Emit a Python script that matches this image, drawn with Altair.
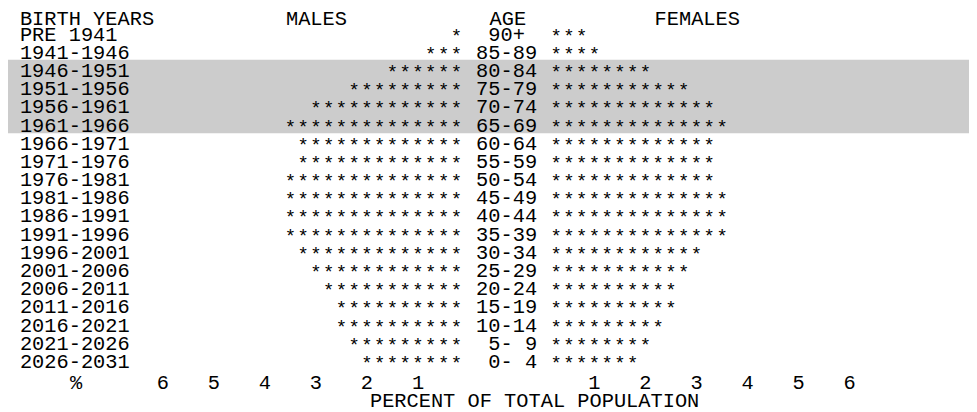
import altair as alt
import pandas as pd

# ---------------- data ----------------
birth_years = ["PRE 1941", "1941-1946", "1946-1951", "1951-1956", "1956-1961",
               "1961-1966", "1966-1971", "1971-1976", "1976-1981", "1981-1986",
               "1986-1991", "1991-1996", "1996-2001", "2001-2006", "2006-2011",
               "2011-2016", "2016-2021", "2021-2026", "2026-2031"]
age_groups = [" 90+", "85-89", "80-84", "75-79", "70-74", "65-69", "60-64",
              "55-59", "50-54", "45-49", "40-44", "35-39", "30-34", "25-29",
              "20-24", "15-19", "10-14", " 5- 9", " 0- 4"]
male_stars = [1, 3, 6, 9, 12, 14, 13, 13, 14, 14, 14, 14, 13, 12, 11, 10, 10, 9, 8]
female_stars = [3, 4, 8, 11, 13, 14, 13, 13, 13, 14, 14, 14, 12, 11, 10, 10, 9, 8, 7]
tick_values = [1, 2, 3, 4, 5, 6]
highlight_years = ["1946-1951", "1951-1956", "1956-1961", "1961-1966"]
PCT_PER_STAR = 0.25

# ---------------- layout ----------------
W, H = 969, 404
CHAR = 12.87                  # cell width of the star grid (px)
PX_PER_PCT = 4 * CHAR
CENTER = 502.35               # view x of the middle of the age column
HALF_GAP = 37.45 / PX_PER_PCT
FONT = "Courier New, Liberation Mono, monospace"
FS = 20.5
FS_STAR = 19
ADV = 0.6 * FS                # advance of one label character
ROW0, ROW_H = 25.3, 18.33     # view y of first data row, row pitch


def ux(page_x):
    return (page_x - 8 - CENTER) / PX_PER_PCT


def urow(page_y):
    return (page_y - 8 - ROW0) / ROW_H


def lead(s):
    return len(s) - len(s.lstrip(" "))


XDOM = [ux(8), ux(8 + W)]
YDOM = [urow(8), urow(8 + H)]
xs = alt.Scale(domain=XDOM, nice=False, zero=False)
ys = alt.Scale(domain=YDOM, nice=False, zero=False, reverse=True)

# stars, one text mark per star
stars = []
for i, (m, f) in enumerate(zip(male_stars, female_stars)):
    for k in range(1, m + 1):
        stars.append({"t": "*", "x": -(HALF_GAP + k * PCT_PER_STAR), "row": i})
    for k in range(1, f + 1):
        stars.append({"t": "*", "x": HALF_GAP + k * PCT_PER_STAR, "row": i})
stars = pd.DataFrame(stars)

head_row = urow(17.5)
left_txt = pd.DataFrame(
    [{"t": b, "x": ux(20), "row": i} for i, b in enumerate(birth_years)]
    + [{"t": a.strip(), "x": ux(480 + lead(a) * ADV), "row": i}
       for i, a in enumerate(age_groups)]
    + [{"t": "BIRTH YEARS", "x": ux(20), "row": head_row}]
)

tick_row = urow(384)
center_txt = pd.DataFrame(
    [{"t": str(v), "x": -(HALF_GAP + v), "row": tick_row} for v in tick_values]
    + [{"t": str(v), "x": HALF_GAP + v, "row": tick_row} for v in tick_values]
    + [{"t": "%", "x": ux(76.7), "row": tick_row},
       {"t": "PERCENT OF TOTAL POPULATION", "x": ux(539), "row": urow(403)},
       {"t": "MALES", "x": ux(319), "row": head_row},
       {"t": "AGE", "x": ux(512), "row": head_row},
       {"t": "FEMALES", "x": ux(703), "row": head_row}]
)

idx = [birth_years.index(b) for b in highlight_years]
band = pd.DataFrame([{"r1": min(idx) - 0.62, "r2": max(idx) + 0.42}])

band_layer = alt.Chart(band).mark_rect(color="#cccccc").encode(
    x=alt.value(0), x2=alt.value(W),
    y=alt.Y("r1:Q", scale=ys, axis=None), y2="r2:Q")


def text_layer(df, align, size, dy=0):
    return alt.Chart(df).mark_text(
        font=FONT, fontSize=size, align=align, baseline="middle",
        color="#000000", dy=dy
    ).encode(
        x=alt.X("x:Q", scale=xs, axis=None),
        y=alt.Y("row:Q", scale=ys, axis=None),
        text="t:N")


chart = alt.layer(
    band_layer,
    text_layer(left_txt, "left", FS),
    text_layer(center_txt, "center", FS),
    text_layer(stars, "center", FS_STAR, dy=1),
).properties(
    width=W, height=H, padding=0, autosize=alt.AutoSizeParams(type="none"),
    background="white"
).configure_view(stroke=None)

chart.save("out.html", embed_options={"renderer": "svg", "actions": False})
